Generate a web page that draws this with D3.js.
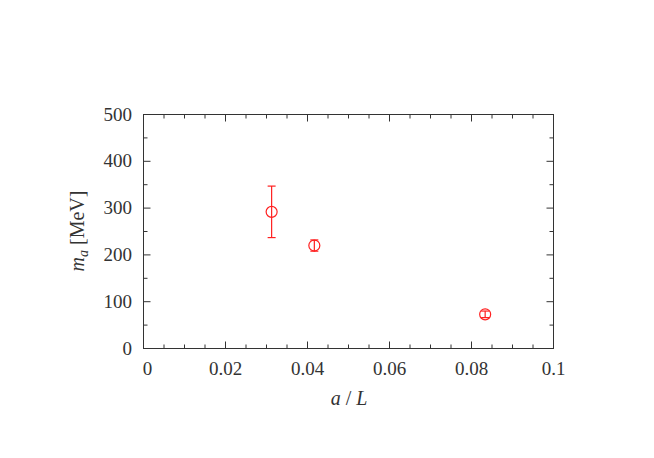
<!DOCTYPE html>
<html><head><meta charset="utf-8">
<script src="https://cdn.jsdelivr.net/npm/d3@7"></script>
<style>body{margin:0;background:#fff}svg text{font-family:"Liberation Serif","DejaVu Serif",serif;fill:#333}</style>
</head><body>
<svg id="c" width="654" height="458"></svg>
<script>
const xVals = [0.03125, 0.041667, 0.083333];
const yVals = [292, 220, 73];
const yErr = [55, 12, 7];
const xTicks = [0, 0.02, 0.04, 0.06, 0.08, 0.1];
const xTickLabels = ["0", "0.02", "0.04", "0.06", "0.08", "0.1"];
const yTicks = [0, 100, 200, 300, 400, 500];
const yTickLabels = ["0", "100", "200", "300", "400", "500"];

const svg = d3.select("#c");
const L = 143.5, R = 553.5, T = 114.5, B = 348.5;
const x = d3.scaleLinear().domain([0, 0.1]).range([L, R]);
const y = d3.scaleLinear().domain([0, 500]).range([B, T]);

const xMinor = d3.range(0, 0.1001, 0.005);
const yMinor = d3.range(0, 501, 50);
const g = svg.append("g").attr("stroke", "#333").attr("stroke-width", 1);
xMinor.forEach(v => {
  const major = Math.abs(Math.round(v / 0.02) * 0.02 - v) < 1e-9;
  const len = major ? 7 : 4;
  g.append("line").attr("x1", x(v)).attr("x2", x(v)).attr("y1", B).attr("y2", B - len);
  g.append("line").attr("x1", x(v)).attr("x2", x(v)).attr("y1", T).attr("y2", T + len);
});
yMinor.forEach(v => {
  const major = v % 100 === 0;
  const len = major ? 7 : 4;
  g.append("line").attr("y1", y(v)).attr("y2", y(v)).attr("x1", L).attr("x2", L + len);
  g.append("line").attr("y1", y(v)).attr("y2", y(v)).attr("x1", R).attr("x2", R - len);
});
svg.append("rect").attr("x", L).attr("y", T).attr("width", R - L).attr("height", B - T)
  .attr("fill", "none").attr("stroke", "#333").attr("stroke-width", 1);

svg.selectAll(".xl").data(xTicks).enter().append("text")
  .attr("x", d => x(d) + (d === 0 ? 4 : 0)).attr("y", 375).attr("text-anchor", "middle")
  .attr("font-size", 19).text((d, i) => xTickLabels[i]);
svg.selectAll(".yl").data(yTicks).enter().append("text")
  .attr("x", 132).attr("y", d => y(d) + 6).attr("text-anchor", "end")
  .attr("font-size", 19).text((d, i) => yTickLabels[i]);

svg.append("text").attr("x", 349).attr("y", 405).attr("text-anchor", "middle").attr("font-size", 20)
  .html('<tspan font-style="italic">a</tspan> / <tspan font-style="italic">L</tspan>');
svg.append("text").attr("transform", "translate(84,231) rotate(-90)").attr("text-anchor", "middle").attr("font-size", 20)
  .html('<tspan font-style="italic">m</tspan><tspan font-style="italic" font-size="14" dy="4">a</tspan><tspan dy="-4"> [MeV]</tspan>');

const col = "#ff2020";
const pts = svg.append("g").attr("stroke", col).attr("fill", "none").attr("stroke-width", 1.2);
xVals.forEach((xv, i) => {
  const cx = x(xv), cy = y(yVals[i]), t = y(yVals[i] + yErr[i]), b = y(yVals[i] - yErr[i]);
  pts.append("line").attr("x1", cx).attr("x2", cx).attr("y1", t).attr("y2", b);
  pts.append("line").attr("x1", cx - 4).attr("x2", cx + 4).attr("y1", t).attr("y2", t);
  pts.append("line").attr("x1", cx - 4).attr("x2", cx + 4).attr("y1", b).attr("y2", b);
  pts.append("circle").attr("cx", cx).attr("cy", cy).attr("r", 5.5);
});
</script>
</body></html>
